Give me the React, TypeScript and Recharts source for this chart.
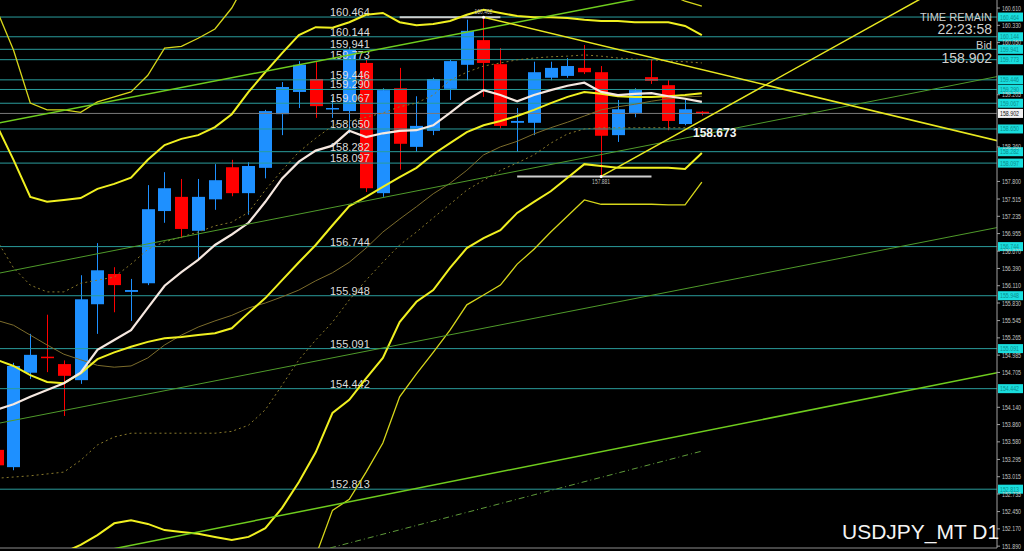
import React from "react";
import { ComposedChart, Bar, Line, XAxis, YAxis, ReferenceLine, ReferenceDot } from "recharts";

// bar number; -1 is the half hidden bar on the left edge
const BAR = [-1, 0, 1, 2, 3, 4, 5, 6, 7, 8, 9, 10, 11, 12, 13, 14, 15, 16, 17, 18, 19, 20, 21, 22, 23, 24, 25, 26, 27, 28, 29, 30, 31, 32, 33, 34, 35, 36, 37, 38, 39, 40, 41];

const OPEN = [153.45, 153.17, 154.70, 154.96, 154.84, 154.58, 155.81, 156.30, 156.01, 156.15, 157.32, 157.55, 157.00, 157.51, 158.03, 157.61, 158.02, 158.89, 159.25, 159.46, 158.97, 158.94, 159.72, 157.61, 159.31, 158.36, 158.62, 159.30, 159.69, 160.09, 159.70, 158.75, 158.75, 159.48, 159.51, 159.64, 159.57, 158.55, 158.91, 159.49, 159.36, 158.73, 158.93];
const HIGH = [153.50, 154.86, 155.33, 155.64, 154.90, 156.28, 156.80, 156.41, 156.22, 157.74, 157.95, 157.84, 157.84, 158.08, 158.15, 158.11, 158.96, 159.41, 159.75, 159.74, 159.17, 159.96, 159.77, 159.31, 159.64, 159.18, 159.48, 159.77, 160.42, 160.462, 159.96, 158.99, 159.74, 159.74, 159.80, 160.01, 159.67, 159.12, 159.31, 159.78, 159.44, 159.12, 158.94];
const LOW = [153.15, 153.12, 154.60, 154.71, 154.00, 154.52, 155.33, 155.68, 155.54, 156.12, 157.13, 156.88, 156.53, 157.34, 157.56, 157.26, 157.85, 158.55, 158.99, 158.83, 158.83, 158.58, 157.63, 157.55, 157.99, 158.28, 158.55, 159.12, 159.44, 159.17, 158.66, 158.28, 158.55, 159.44, 159.48, 159.54, 157.881, 158.44, 158.84, 159.38, 158.63, 158.71, 158.87];
const CLOSE = [153.20, 154.81, 154.99, 154.94, 154.65, 155.89, 156.36, 156.12, 156.04, 157.35, 157.69, 157.03, 157.55, 157.82, 157.61, 158.05, 158.94, 159.33, 159.69, 159.02, 158.99, 159.93, 157.69, 159.28, 158.41, 158.70, 159.46, 159.75, 160.24, 159.72, 158.70, 158.78, 159.57, 159.64, 159.67, 159.57, 158.54, 158.97, 159.28, 159.43, 158.78, 158.97, 158.902];

// white fast MA
const MA_FAST = [154.10, 154.19, 154.31, 154.42, 154.53, 154.70, 155.07, 155.23, 155.39, 155.75, 156.11, 156.33, 156.53, 156.77, 156.94, 157.13, 157.47, 157.85, 158.12, 158.30, 158.38, 158.62, 158.52, 158.58, 158.62, 158.63, 158.71, 158.91, 159.12, 159.28, 159.20, 159.10, 159.20, 159.28, 159.35, 159.40, 159.25, 159.20, 159.22, 159.23, 159.18, 159.14, 159.09];
// bollinger bands (yellow)
const BB_MID = [154.91, 154.81, 154.66, 154.55, 154.53, 154.69, 154.92, 155.03, 155.12, 155.20, 155.26, 155.28, 155.31, 155.34, 155.42, 155.67, 155.91, 156.20, 156.49, 156.77, 157.09, 157.40, 157.55, 157.71, 157.87, 158.02, 158.24, 158.42, 158.60, 158.71, 158.78, 158.86, 158.96, 159.07, 159.17, 159.25, 159.22, 159.18, 159.17, 159.17, 159.18, 159.20, 159.23];
const BB_UP2 = [158.71, 158.15, 157.55, 157.47, 157.50, 157.53, 157.68, 157.76, 157.86, 158.15, 158.39, 158.49, 158.55, 158.68, 158.89, 159.25, 159.57, 159.88, 160.17, 160.30, 160.29, 160.38, 160.50, 160.53, 160.38, 160.33, 160.35, 160.40, 160.50, 160.58, 160.53, 160.48, 160.46, 160.46, 160.45, 160.42, 160.40, 160.40, 160.38, 160.38, 160.38, 160.32, 160.17];
const BB_LO2 = [151.34, 151.42, 151.58, 151.70, 151.79, 151.91, 152.07, 152.26, 152.31, 152.25, 152.15, 152.12, 152.09, 152.04, 151.99, 152.04, 152.18, 152.51, 152.93, 153.41, 154.05, 154.26, 154.61, 154.94, 155.52, 155.85, 156.04, 156.40, 156.72, 156.88, 157.01, 157.29, 157.47, 157.64, 157.86, 158.08, 158.05, 158.02, 158.02, 158.02, 158.02, 158.00, 158.26];
const BB_UP3 = [160.58, 159.93, 159.07, 158.96, 158.96, 158.92, 159.09, 159.17, 159.25, 159.52, 159.96, 159.99, 160.12, 160.27, 160.61, 161.10, 161.50, 161.84, 162.13, 162.17, 161.99, 161.87, 161.96, 161.89, 161.62, 161.45, 161.37, 161.36, 161.45, 161.50, 161.40, 161.29, 161.23, 161.16, 161.08, 161.00, 160.98, 161.00, 160.98, 160.98, 160.84, 160.72, 160.64];
const BB_LO3 = [149.56, 149.80, 150.34, 150.17, 150.08, 150.45, 150.79, 150.95, 151.02, 150.77, 150.56, 150.47, 150.45, 150.34, 150.22, 150.01, 149.96, 150.03, 151.02, 151.73, 152.47, 152.65, 153.09, 153.56, 154.31, 154.68, 155.03, 155.39, 155.80, 155.96, 156.12, 156.46, 156.70, 156.98, 157.24, 157.50, 157.43, 157.43, 157.43, 157.43, 157.42, 157.42, 157.79];
// slow MA (thin brown) and its dotted envelope
const MA_SLOW = [155.55, 155.47, 155.31, 155.15, 155.00, 154.91, 154.82, 154.79, 154.81, 154.94, 155.15, 155.31, 155.44, 155.54, 155.63, 155.75, 155.83, 155.93, 156.04, 156.19, 156.32, 156.49, 156.72, 156.98, 157.19, 157.39, 157.60, 157.77, 157.98, 158.23, 158.36, 158.45, 158.57, 158.67, 158.76, 158.86, 158.96, 159.01, 159.05, 159.10, 159.14, 159.17, 159.18];
const ENV_UP = [156.85, 156.40, 156.12, 156.01, 156.01, 156.15, 156.20, 156.25, 156.46, 156.70, 156.82, 156.90, 156.98, 157.08, 157.14, 157.30, 157.66, 157.98, 158.28, 158.50, 158.70, 158.78, 158.84, 158.91, 159.01, 159.07, 159.20, 159.44, 159.57, 159.67, 159.72, 159.77, 159.80, 159.82, 159.83, 159.85, 159.83, 159.80, 159.78, 159.77, 159.75, 159.74, 159.72];
const ENV_LO = [152.99, 153.01, 153.03, 153.06, 153.09, 153.28, 153.53, 153.66, 153.72, 153.72, 153.72, 153.72, 153.72, 153.72, 153.75, 153.85, 154.10, 154.50, 154.91, 155.23, 155.52, 155.88, 156.20, 156.49, 156.77, 156.98, 157.21, 157.43, 157.66, 157.82, 157.98, 158.10, 158.23, 158.42, 158.57, 158.65, 158.67, 158.67, 158.67, 158.67, 158.67, 158.67, 158.67];

const PRICE_TICKS = [160.61, 160.33, 160.05, 159.205, 158.36, 157.8, 157.515, 157.235, 156.955, 156.67, 156.39, 156.11, 155.83, 155.545, 155.265, 154.985, 154.705, 154.14, 153.86, 153.58, 153.295, 153.015, 152.735, 152.45, 152.17, 151.89];
const LEVELS = [160.464, 160.144, 159.941, 159.773, 159.446, 159.29, 159.067, 158.65, 158.282, 158.097, 156.744, 155.948, 155.091, 154.442, 152.813];
const BID = 158.902;

// [bar, price] end points of the drawn trend lines
const TREND_GREEN_TOP = [[-1, 158.74], [58.6, 161.89]];
const TREND_GREEN_MID = [[-1, 156.306], [58.6, 159.5]];
const TREND_GREEN_LOW = [[-1, 153.875], [58.6, 157.053]];
const TREND_GREEN_BOTTOM = [[-1, 151.47], [58.6, 154.7]];
const TREND_GREEN_DASH = [[18.85, 151.86], [41, 153.43]];
const TREND_YELLOW_UP = [[35, 157.881], [58.6, 161.45]];
const TREND_YELLOW_DOWN = [[28, 160.462], [58.6, 158.46]];

// recent high / low markers: [from bar, to bar, bar of extreme, price]
const HIGH_MARK = [23, 29, 28, 160.462];
const LOW_MARK = [30, 38, 35, 157.881];

const X_DOMAIN = [-0.804, 58.58];
const Y_DOMAIN = [151.86, 160.74];

const rows = BAR.map((i, k) => ({
  i,
  o: OPEN[k],
  h: HIGH[k],
  l: LOW[k],
  c: CLOSE[k],
  range: [LOW[k], HIGH[k]],
  maFast: MA_FAST[k],
  mid: BB_MID[k],
  up2: BB_UP2[k],
  lo2: BB_LO2[k],
  up3: BB_UP3[k],
  lo3: BB_LO3[k],
  maSlow: MA_SLOW[k],
  envUp: ENV_UP[k],
  envLo: ENV_LO[k],
}));

const toPts = (arr: number[][]) => arr.map(([i, p]) => ({ i, p }));

const NUM_FONT = "'Liberation Sans', Arial, sans-serif";
const BODY_W = 13;

function Candle(props: any) {
  const { x, y, width, height, payload } = props;
  if (x == null || y == null) return null;
  const { o, h, l, c } = payload;
  const top = Math.min(y, y + height);
  const hh = Math.abs(height);
  const k = h > l ? hh / (h - l) : 0;
  const color = c >= o ? "#1e90ff" : "#ff0000";
  const bodyTop = top + (h - Math.max(o, c)) * k;
  const bodyH = Math.max(1.5, Math.abs(o - c) * k);
  const mid = Math.round(x + width / 2);
  return (
    <g>
      <line x1={mid + 0.5} x2={mid + 0.5} y1={top} y2={top + hh} stroke={color} strokeWidth={1} />
      <rect x={mid - (BODY_W - 1) / 2} y={bodyTop} width={BODY_W} height={bodyH} fill={color} />
    </g>
  );
}

function PriceTick(props: any) {
  const { x, y, payload } = props;
  return (
    <text x={x} y={y + 2.5} fontSize={6.5} fill="#c4c4c4" fontFamily={NUM_FONT} textLength={19} lengthAdjust="spacingAndGlyphs">
      {Number(payload.value).toFixed(3)}
    </text>
  );
}

const levelLabel = (value: number) => (props: any) => {
  const vb = props.viewBox || {};
  const y = vb.y;
  const right = vb.x + vb.width;
  const txt = value.toFixed(3);
  return (
    <g>
      <text x={330} y={y - 1} fontSize={11} fill="#dcdcdc" fontFamily={NUM_FONT}>
        {txt}
      </text>
      <rect x={right + 1} y={y - 4.5} width={25} height={9} fill="#19dede" />
      <text x={right + 3} y={y + 2.5} fontSize={6.5} fill="#0b8c8c" fontFamily={NUM_FONT} textLength={19} lengthAdjust="spacingAndGlyphs">
        {txt}
      </text>
    </g>
  );
};

const bidLabel = (props: any) => {
  const vb = props.viewBox || {};
  const y = vb.y;
  const right = vb.x + vb.width;
  return (
    <g>
      <rect x={right + 1} y={y - 4.5} width={25} height={9} fill="#f2f2f2" />
      <text x={right + 3} y={y + 2.5} fontSize={6.5} fill="#111" fontFamily={NUM_FONT} textLength={19} lengthAdjust="spacingAndGlyphs">
        {BID.toFixed(3)}
      </text>
    </g>
  );
};

const markLabel = (value: number, above: boolean) => (props: any) => {
  const vb = props.viewBox || {};
  const cx = vb.x + vb.width / 2;
  const cy = vb.y + vb.height / 2;
  return (
    <text x={cx} y={above ? cy - 3 : cy + 8} textAnchor="middle" fontSize={7} fill="#bdbdbd" fontFamily={NUM_FONT} textLength={18} lengthAdjust="spacingAndGlyphs">
      {value.toFixed(3)}
    </text>
  );
};

const lineProps = { dot: false, activeDot: false, isAnimationActive: false, type: "linear" as const };

export default function App() {
  return (
    <div
      style={{
        position: "fixed",
        left: 0,
        top: 0,
        width: 1024,
        height: 551,
        background: "#000",
        overflow: "hidden",
        fontFamily: NUM_FONT,
      }}
    >
      <ComposedChart width={1024} height={551} data={rows} margin={{ top: 0, right: 0, bottom: 3, left: 0 }}>
        <XAxis dataKey="i" type="number" domain={X_DOMAIN} allowDataOverflow hide />
        <YAxis
          orientation="right"
          width={27}
          domain={Y_DOMAIN}
          allowDataOverflow
          ticks={PRICE_TICKS}
          interval={0}
          tick={<PriceTick />}
          tickSize={3}
          tickMargin={2}
          tickLine={{ stroke: "#a0a0a0" }}
          axisLine={{ stroke: "#a0a0a0" }}
        />

        {LEVELS.map((lv) => (
          <ReferenceLine key={lv} y={lv} stroke="#2a9c9c" strokeWidth={1} label={levelLabel(lv)} />
        ))}
        <ReferenceLine y={BID} stroke="#7a7a7a" strokeWidth={1} label={bidLabel} />
        <ReferenceLine y={Y_DOMAIN[0]} stroke="#8c8c8c" strokeWidth={1} />

        <ReferenceLine
          segment={[
            { x: HIGH_MARK[0], y: HIGH_MARK[3] },
            { x: HIGH_MARK[1], y: HIGH_MARK[3] },
          ]}
          stroke="#cfcfcf"
          strokeWidth={2}
        />
        <ReferenceLine
          segment={[
            { x: LOW_MARK[0], y: LOW_MARK[3] },
            { x: LOW_MARK[1], y: LOW_MARK[3] },
          ]}
          stroke="#cfcfcf"
          strokeWidth={2}
        />
        <ReferenceDot x={HIGH_MARK[2]} y={HIGH_MARK[3]} r={1.5} fill="#ffffff" stroke="none" label={markLabel(HIGH_MARK[3], true)} />
        <ReferenceDot x={LOW_MARK[2]} y={LOW_MARK[3]} r={1.5} fill="#ffffff" stroke="none" label={markLabel(LOW_MARK[3], false)} />

        <Bar dataKey="range" shape={Candle} barSize={13} isAnimationActive={false} />

        <Line {...lineProps} dataKey="envUp" stroke="#8a7a2c" strokeWidth={1} strokeDasharray="2 3" />
        <Line {...lineProps} dataKey="envLo" stroke="#8a7a2c" strokeWidth={1} strokeDasharray="2 3" />
        <Line {...lineProps} dataKey="maSlow" stroke="#7d6d2c" strokeWidth={1} />
        <Line {...lineProps} dataKey="up3" stroke="#d6d61a" strokeWidth={1.3} />
        <Line {...lineProps} dataKey="lo3" stroke="#d6d61a" strokeWidth={1.3} />
        <Line {...lineProps} dataKey="up2" stroke="#f0f020" strokeWidth={2} />
        <Line {...lineProps} dataKey="lo2" stroke="#f0f020" strokeWidth={2} />
        <Line {...lineProps} dataKey="mid" stroke="#f0f020" strokeWidth={2} />
        <Line {...lineProps} dataKey="maFast" stroke="#f6e8e0" strokeWidth={2.2} />

        <Line {...lineProps} data={toPts(TREND_GREEN_TOP)} dataKey="p" stroke="#6fcc1e" strokeWidth={1.5} />
        <Line {...lineProps} data={toPts(TREND_GREEN_MID)} dataKey="p" stroke="#4f9a2a" strokeWidth={1} />
        <Line {...lineProps} data={toPts(TREND_GREEN_LOW)} dataKey="p" stroke="#4f9a2a" strokeWidth={1} />
        <Line {...lineProps} data={toPts(TREND_GREEN_BOTTOM)} dataKey="p" stroke="#6fcc1e" strokeWidth={1.5} />
        <Line {...lineProps} data={toPts(TREND_GREEN_DASH)} dataKey="p" stroke="#5f9a3a" strokeWidth={1} strokeDasharray="6 3 1 3" />
        <Line {...lineProps} data={toPts(TREND_YELLOW_UP)} dataKey="p" stroke="#e8e820" strokeWidth={1.5} />
        <Line {...lineProps} data={toPts(TREND_YELLOW_DOWN)} dataKey="p" stroke="#e8e820" strokeWidth={1.5} />
      </ComposedChart>

      <div style={{ position: "absolute", right: 32, top: 11, fontSize: 11, lineHeight: "12px", color: "#cfcfcf", textAlign: "right" }}>
        TIME REMAIN
      </div>
      <div style={{ position: "absolute", right: 32, top: 22, fontSize: 14, lineHeight: "15px", color: "#cfcfcf", textAlign: "right" }}>
        22:23:58
      </div>
      <div style={{ position: "absolute", right: 32, top: 39, fontSize: 11, lineHeight: "12px", color: "#cfcfcf", textAlign: "right" }}>
        Bid
      </div>
      <div style={{ position: "absolute", right: 32, top: 51, fontSize: 14, lineHeight: "15px", color: "#cfcfcf", textAlign: "right" }}>
        158.902
      </div>
      <div style={{ position: "absolute", left: 693, top: 127, fontSize: 12, lineHeight: "13px", fontWeight: 700, color: "#f4f4f4" }}>
        158.673
      </div>
      <div style={{ position: "absolute", left: 842, top: 521, fontSize: 21, lineHeight: "22px", color: "#f4f4f4" }}>
        USDJPY_MT D1
      </div>
    </div>
  );
}
